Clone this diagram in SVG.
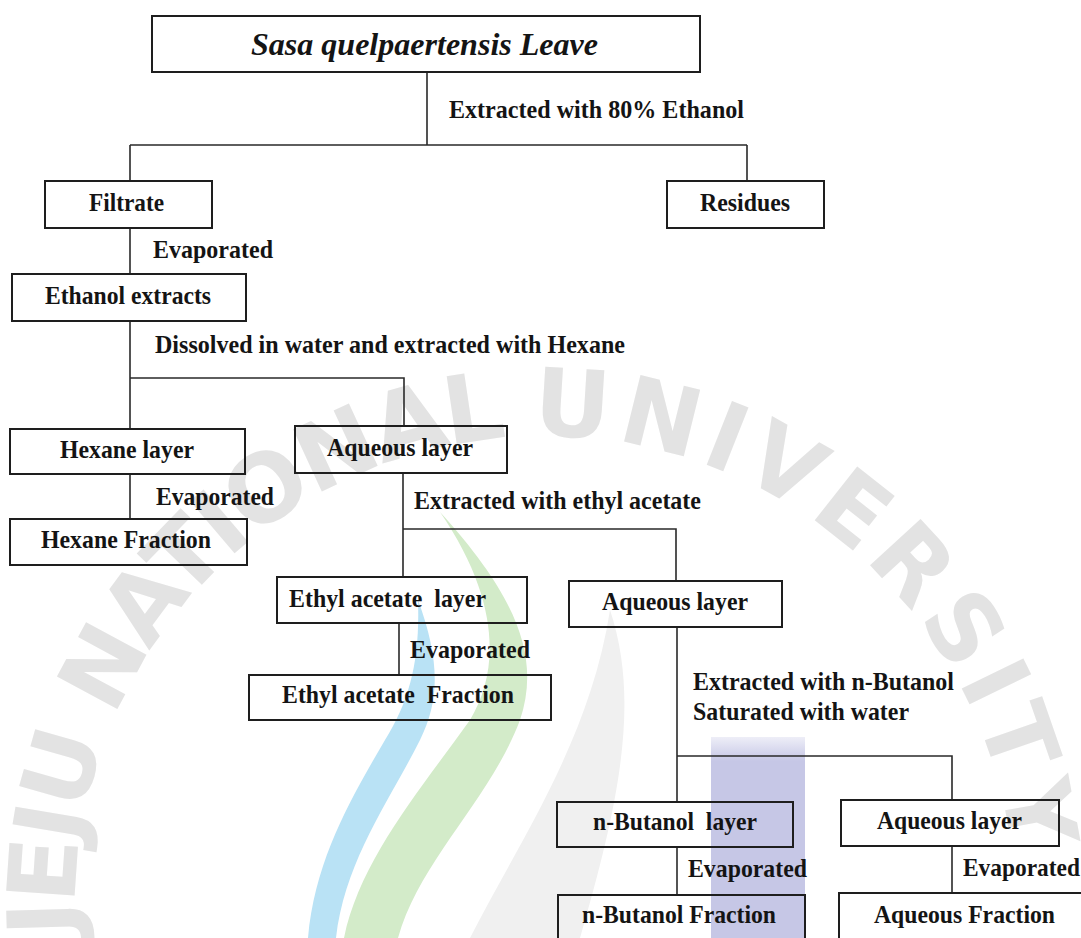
<svg xmlns="http://www.w3.org/2000/svg" width="1081" height="938" viewBox="0 0 1081 938">
<defs>
<style>
.bx{fill:none;stroke:#1e1e1e;stroke-width:2}
.ln{fill:none;stroke:#2a2a2a;stroke-width:1.6}
.t{font-family:"Liberation Serif","Times New Roman",serif;font-weight:bold;font-size:25px;fill:#141414}
.ti{font-family:"Liberation Serif","Times New Roman",serif;font-weight:bold;font-style:italic;font-size:32px;fill:#141414}
.wm{font-family:"DejaVu Sans","Liberation Sans",sans-serif;font-weight:bold;font-size:94px;fill:#e3e3e3}
</style>
<linearGradient id="pg" x1="0" y1="0" x2="0" y2="1">
<stop offset="0" stop-color="#c6c7e6" stop-opacity="0.3"/>
<stop offset="0.12" stop-color="#c6c7e6" stop-opacity="1"/>
<stop offset="1" stop-color="#c6c7e6" stop-opacity="1"/>
</linearGradient>
<path id="arc" d="M 103.3 1066.7 A 470 470 0 1 1 986.7 1066.7"/>
</defs>
<rect width="1081" height="938" fill="#ffffff"/>
<g id="watermark">
<path d="M610 610 C 640 700 620 800 580 938 L 470 938 C 520 840 590 740 610 610 Z" fill="#f0f0f0"/>
<path d="M440 512 C 520 600 540 660 520 720 C 490 800 420 860 398 938 L 344 938 C 360 860 420 790 470 720 C 500 670 500 600 440 512 Z" fill="#d3ebc9"/>
<path d="M418 600 C 440 660 440 700 420 740 C 390 800 345 860 336 938 L 308 938 C 315 860 350 800 385 740 C 410 700 420 660 418 600 Z" fill="#b9e2f5"/>
<rect x="711" y="737" width="94" height="201" fill="url(#pg)"/>
<text class="wm"><textPath href="#arc" startOffset="135"><tspan letter-spacing="-4">JEJU NATIONAL </tspan><tspan letter-spacing="7">UNIVERSITY</tspan></textPath></text>
</g>
<g id="connectors">
<path class="ln" d="M427 72 V145 M130 145 H747 M130 145 V181 M747 145 V181"/>
<path class="ln" d="M130 228 V274"/>
<path class="ln" d="M130 321 V378 H404 V426 M130 378 V429"/>
<path class="ln" d="M130 474 V519"/>
<path class="ln" d="M403 473 V529 H676 V581 M403 529 V577"/>
<path class="ln" d="M399 623 V675"/>
<path class="ln" d="M677 627 V756 H952 V800 M677 756 V802"/>
<path class="ln" d="M677 847 V895"/>
<path class="ln" d="M952 846 V893"/>
</g>
<g id="labels">
<text class="t" x="449" y="118" textLength="295" lengthAdjust="spacingAndGlyphs">Extracted with 80% Ethanol</text>
<text class="t" x="153" y="258" textLength="120" lengthAdjust="spacingAndGlyphs">Evaporated</text>
<text class="t" x="155" y="353" textLength="470" lengthAdjust="spacingAndGlyphs">Dissolved in water and extracted with Hexane</text>
<text class="t" x="156" y="505" textLength="118" lengthAdjust="spacingAndGlyphs">Evaporated</text>
<text class="t" x="414" y="509" textLength="287" lengthAdjust="spacingAndGlyphs">Extracted with ethyl acetate</text>
<text class="t" x="410" y="658" textLength="120" lengthAdjust="spacingAndGlyphs">Evaporated</text>
<text class="t" x="693" y="690" textLength="261" lengthAdjust="spacingAndGlyphs">Extracted with n-Butanol</text>
<text class="t" x="693" y="720" textLength="216" lengthAdjust="spacingAndGlyphs">Saturated with water</text>
<text class="t" x="688" y="877" textLength="119" lengthAdjust="spacingAndGlyphs">Evaporated</text>
<text class="t" x="963" y="876" textLength="117" lengthAdjust="spacingAndGlyphs">Evaporated</text>
</g>
<g id="n-leave"><rect class="bx" x="152" y="16" width="548" height="56"/><text class="ti" x="251" y="55" textLength="347" lengthAdjust="spacingAndGlyphs">Sasa quelpaertensis Leave</text></g>
<g id="n-filtrate"><rect class="bx" x="45" y="181" width="167" height="47"/><text class="t" x="89" y="211" textLength="75" lengthAdjust="spacingAndGlyphs">Filtrate</text></g>
<g id="n-residues"><rect class="bx" x="667" y="181" width="157" height="47"/><text class="t" x="700" y="211" textLength="90" lengthAdjust="spacingAndGlyphs">Residues</text></g>
<g id="n-ethanol"><rect class="bx" x="12" y="274" width="234" height="47"/><text class="t" x="45" y="304" textLength="166" lengthAdjust="spacingAndGlyphs">Ethanol extracts</text></g>
<g id="n-hexane-layer"><rect class="bx" x="10" y="429" width="235" height="45"/><text class="t" x="60" y="458" textLength="134" lengthAdjust="spacingAndGlyphs">Hexane layer</text></g>
<g id="n-aqueous-1"><rect class="bx" x="295" y="426" width="212" height="47"/><text class="t" x="327" y="456" textLength="146" lengthAdjust="spacingAndGlyphs">Aqueous layer</text></g>
<g id="n-hexane-fraction"><rect class="bx" x="10" y="519" width="237" height="46"/><text class="t" x="41" y="548" textLength="170" lengthAdjust="spacingAndGlyphs">Hexane Fraction</text></g>
<g id="n-ethyl-layer"><rect class="bx" x="277" y="577" width="250" height="46"/><text class="t" x="289" y="607" textLength="197" lengthAdjust="spacingAndGlyphs" xml:space="preserve">Ethyl acetate  layer</text></g>
<g id="n-aqueous-2"><rect class="bx" x="569" y="581" width="213" height="46"/><text class="t" x="602" y="610" textLength="146" lengthAdjust="spacingAndGlyphs">Aqueous layer</text></g>
<g id="n-ethyl-fraction"><rect class="bx" x="249" y="675" width="302" height="45"/><text class="t" x="282" y="703" textLength="232" lengthAdjust="spacingAndGlyphs" xml:space="preserve">Ethyl acetate  Fraction</text></g>
<g id="n-butanol-layer"><rect class="bx" x="557" y="802" width="236" height="45"/><text class="t" x="593" y="830" textLength="164" lengthAdjust="spacingAndGlyphs" xml:space="preserve">n-Butanol  layer</text></g>
<g id="n-aqueous-3"><rect class="bx" x="841" y="800" width="218" height="46"/><text class="t" x="877" y="829" textLength="145" lengthAdjust="spacingAndGlyphs">Aqueous layer</text></g>
<g id="n-butanol-fraction"><rect class="bx" x="558" y="895" width="247" height="60"/><text class="t" x="582" y="923" textLength="194" lengthAdjust="spacingAndGlyphs">n-Butanol Fraction</text></g>
<g id="n-aqueous-fraction"><rect class="bx" x="839" y="893" width="260" height="60"/><text class="t" x="874" y="923" textLength="181" lengthAdjust="spacingAndGlyphs">Aqueous Fraction</text></g>
</svg>
